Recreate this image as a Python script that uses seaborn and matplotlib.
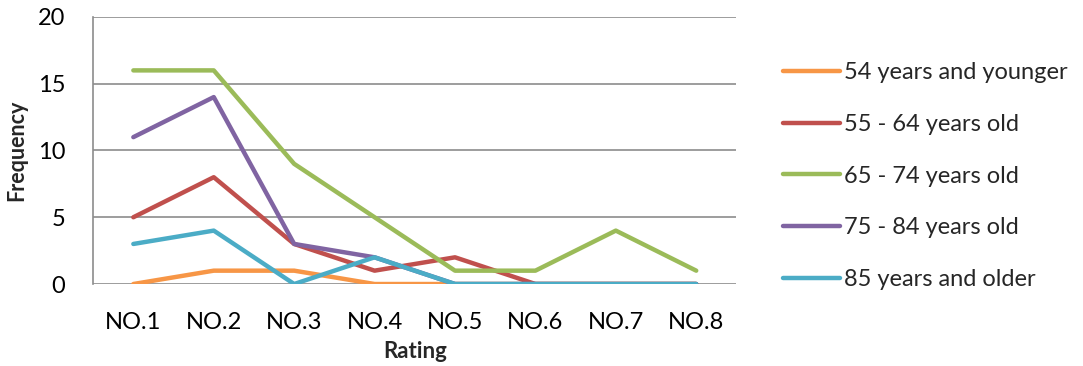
import matplotlib
matplotlib.use("Agg")
import matplotlib.pyplot as plt
import seaborn as sns
import pandas as pd

ratings = ["NO.1", "NO.2", "NO.3", "NO.4", "NO.5", "NO.6", "NO.7", "NO.8"]
age_groups = ["54 years and younger", "55 - 64 years old", "65 - 74 years old",
              "75 - 84 years old", "85 years and older"]
age_54_younger = [0, 1, 1, 0, 0, 0, 0, 0]
age_55_64 = [5, 8, 3, 1, 2, 0, 0, 0]
age_65_74 = [16, 16, 9, 5, 1, 1, 4, 1]
age_75_84 = [11, 14, 3, 2, 0, 0, 0, 0]
age_85_older = [3, 4, 0, 2, 0, 0, 0, 0]
colors = ["#F79646", "#C0504D", "#9BBB59", "#8064A2", "#4BACC6"]

series = [age_54_younger, age_55_64, age_65_74, age_75_84, age_85_older]
rows = []
for group, vals in zip(age_groups, series):
    for i, (r, v) in enumerate(zip(ratings, vals)):
        rows.append({"pos": i, "Rating": r, "Frequency": v, "Age": group})
df = pd.DataFrame(rows)

sns.set_style("white")
plt.rcParams["font.family"] = ["Lato", "DejaVu Sans"]

fs = 17
fig = plt.figure(figsize=(10.83, 3.66), dpi=100)
ax = fig.add_axes([0.086, 0.224, 0.594, 0.7296])

sns.lineplot(data=df, x="pos", y="Frequency", hue="Age", hue_order=age_groups,
             palette=colors, linewidth=3.2, ax=ax, legend=True,
             solid_capstyle="round")

ax.set_xlim(-0.5, 7.5)
ax.set_ylim(0, 20)
ax.set_yticks([0, 5, 10, 15, 20])
ax.set_xticks(range(len(ratings)))
ax.set_xticklabels(ratings)
ax.yaxis.grid(True, color="#8c8c8c", linewidth=1.2)
ax.set_axisbelow(True)
for s in ["top", "right", "bottom"]:
    ax.spines[s].set_visible(False)
ax.spines["left"].set_color("#8c8c8c")
ax.spines["left"].set_linewidth(1.2)
ax.tick_params(axis="both", length=0, labelsize=fs, colors="black")
ax.tick_params(axis="x", pad=20)
ax.tick_params(axis="y", pad=20)
ax.set_xlabel("Rating", fontsize=16, fontweight="bold", labelpad=6)
ax.set_ylabel("Frequency", fontsize=15.5, fontweight="bold")
ax.yaxis.set_label_coords(-0.102, 0.5)

leg = ax.legend(loc="upper left", bbox_to_anchor=(1.04, 0.91), frameon=False,
                fontsize=fs, handlelength=2.4, handletextpad=0.15,
                labelspacing=1.3)
for line in leg.get_lines():
    line.set_linewidth(3.2)
    line.set_solid_capstyle("round")

fig.savefig("out.png", dpi=100)
